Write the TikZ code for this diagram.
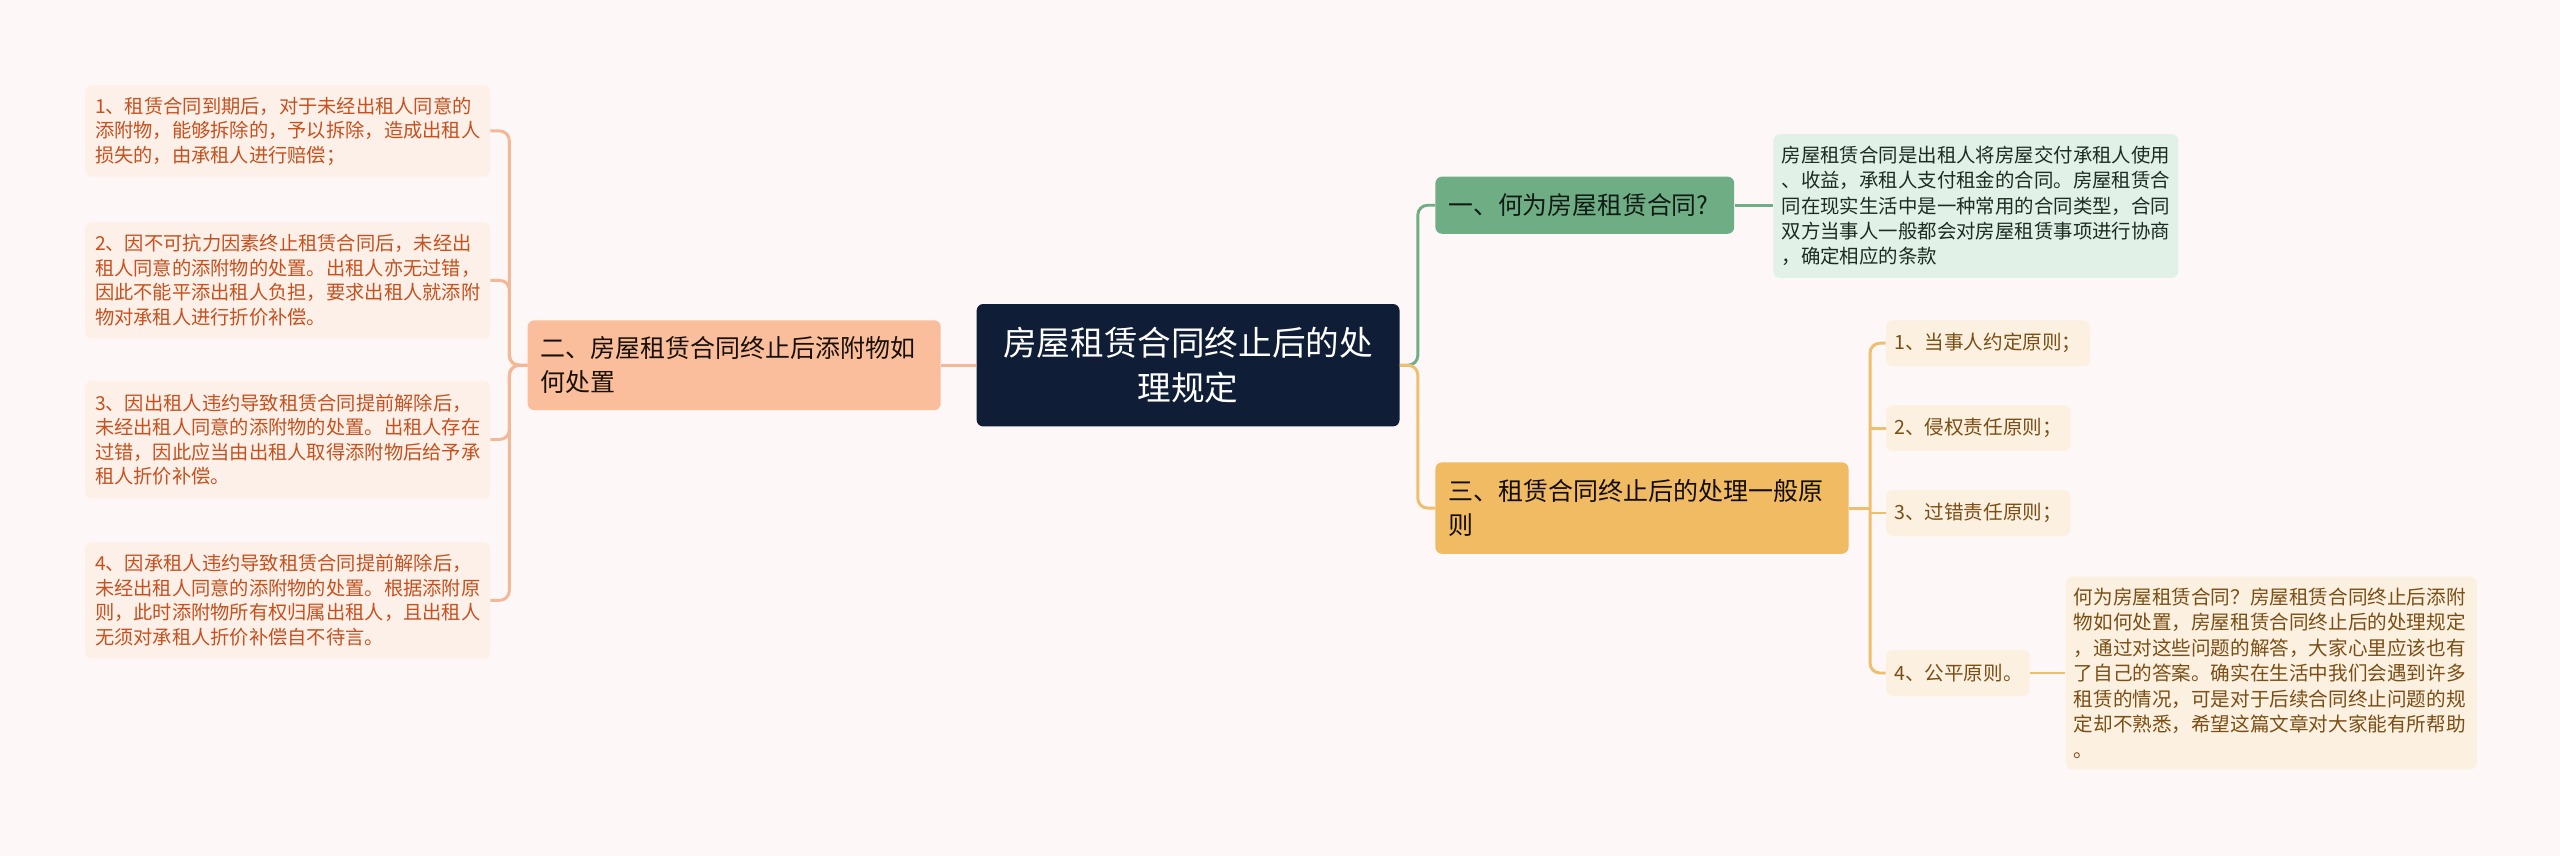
\documentclass[tikz,border=0pt]{standalone}
\usepackage{fontspec}
\newfontfamily\cjk{Noto Sans CJK SC}
\definecolor{bgcol}{HTML}{FDF8F7}
\definecolor{navy}{HTML}{0F1E36}
\definecolor{peach}{HTML}{FBBE9C}
\definecolor{peachlt}{HTML}{FDF0E8}
\definecolor{peachln}{HTML}{F4B896}
\definecolor{rust}{HTML}{C6501E}
\definecolor{sage}{HTML}{6FAE84}
\definecolor{sagelt}{HTML}{E2F1E7}
\definecolor{gold}{HTML}{F0BB62}
\definecolor{goldlt}{HTML}{FCF0E0}
\definecolor{goldln}{HTML}{EFBE6E}
\definecolor{brown}{HTML}{7A4E14}
\tikzset{
  box/.style={anchor=north west, rounded corners=4, align=left, inner ysep=0pt},
  rootbox/.style={box, fill=navy, text=white, align=center, inner xsep=8, font=\cjk\fontsize{20.6}{27}\selectfont},
  leftbox/.style={box, fill=peach, text=black!80!brown, inner xsep=8, font=\cjk\fontsize{15.3}{21}\selectfont},
  leftleaf/.style={box, fill=peachlt, text=rust, inner xsep=6, font=\cjk\fontsize{11.8}{15}\selectfont},
  greenbox/.style={box, fill=sage, text=black!85!sage, inner xsep=8, font=\cjk\fontsize{15.2}{21}\selectfont},
  greenleaf/.style={box, fill=sagelt, text=black!75!sage, inner xsep=5, font=\cjk\fontsize{11.9}{15.5}\selectfont},
  goldbox/.style={box, fill=gold, text=black!85!brown, inner xsep=8, font=\cjk\fontsize{15.3}{21}\selectfont},
  goldleaf/.style={box, fill=goldlt, text=brown, inner xsep=5, font=\cjk\fontsize{12}{15.6}\selectfont},
  lline/.style={draw=peachln, line width=1.8, rounded corners=6},
  gline/.style={draw=sage, line width=1.8, rounded corners=6},
  yline/.style={draw=goldln, line width=1.8, rounded corners=6}
}
\begin{document}
\begin{tikzpicture}[x=1pt,y=-1pt]
\fill[bgcol] (0,0) rectangle (1568,524);
\useasboundingbox (0,0) rectangle (1568,524);
\node[rootbox, minimum width=259, minimum height=75, text width=243] (root) at (598,186) {房屋租赁合同终止后的处\\理规定};
\node[leftbox, minimum width=253, minimum height=55, text width=237] (b2) at (323,196) {二、房屋租赁合同终止后添附物如\\何处置};
\node[leftleaf, minimum width=248, minimum height=56, text width=236] (l1) at (52,52) {1、租赁合同到期后，对于未经出租人同意的\\添附物，能够拆除的，予以拆除，造成出租人\\损失的，由承租人进行赔偿；};
\node[leftleaf, minimum width=248, minimum height=71, text width=236] (l2) at (52,136) {2、因不可抗力因素终止租赁合同后，未经出\\租人同意的添附物的处置。出租人亦无过错，\\因此不能平添出租人负担，要求出租人就添附\\物对承租人进行折价补偿。};
\node[leftleaf, minimum width=248, minimum height=72, text width=236] (l3) at (52,233) {3、因出租人违约导致租赁合同提前解除后，\\未经出租人同意的添附物的处置。出租人存在\\过错，因此应当由出租人取得添附物后给予承\\租人折价补偿。};
\node[leftleaf, minimum width=248, minimum height=71, text width=236] (l4) at (52,332) {4、因承租人违约导致租赁合同提前解除后，\\未经出租人同意的添附物的处置。根据添附原\\则，此时添附物所有权归属出租人，且出租人\\无须对承租人折价补偿自不待言。};
\node[greenbox, minimum width=183, minimum height=35, text width=167] (b1) at (879,108) {一、何为房屋租赁合同?};
\node[greenleaf, minimum width=248, minimum height=88, text width=238] (g1) at (1086,82) {房屋租赁合同是出租人将房屋交付承租人使用\\、收益，承租人支付租金的合同。房屋租赁合\\同在现实生活中是一种常用的合同类型，合同\\双方当事人一般都会对房屋租赁事项进行协商\\，确定相应的条款};
\node[goldbox, minimum width=253, minimum height=56, text width=237] (b3) at (879,283) {三、租赁合同终止后的处理一般原\\则};
\node[goldleaf, minimum width=125, minimum height=28, text width=115] (r1) at (1155,196) {1、当事人约定原则；};
\node[goldleaf, minimum width=113, minimum height=28, text width=103] (r2) at (1155,248) {2、侵权责任原则；};
\node[goldleaf, minimum width=113, minimum height=28, text width=103] (r3) at (1155,300) {3、过错责任原则；};
\node[goldleaf, minimum width=88, minimum height=28, text width=78] (r4) at (1155,398) {4、公平原则。};
\node[goldleaf, minimum width=252, minimum height=118, text width=242] (r5) at (1265,353) {何为房屋租赁合同？房屋租赁合同终止后添附\\物如何处置，房屋租赁合同终止后的处理规定\\，通过对这些问题的解答，大家心里应该也有\\了自己的答案。确实在生活中我们会遇到许多\\租赁的情况，可是对于后续合同终止问题的规\\定却不熟悉，希望这篇文章对大家能有所帮助\\。};
\draw[lline] (root.west) -- (b2.east);
\foreach \n in {l1,l2,l3,l4}
  \draw[lline] (b2.west) -- ++(-11,0) |- (\n.east);
\draw[gline] (root.east) -- ++(11,0) |- (b1.west);
\draw[yline] (root.east) -- ++(11,0) |- (b3.west);
\draw[gline] (b1.east) -- (g1.west |- b1.east);
\path (b3.east) ++(13,0) coordinate (ys);
\draw[yline] (b3.east) -- (ys);
\draw[yline] (r1.west) -| (ys) |- (r4.west);
\foreach \n in {r2,r3}
  \draw[yline] (ys |- \n.west) -- (\n.west);
\draw[yline] (r4.east) -- (r5.west |- r4.east);
\end{tikzpicture}
\end{document}
